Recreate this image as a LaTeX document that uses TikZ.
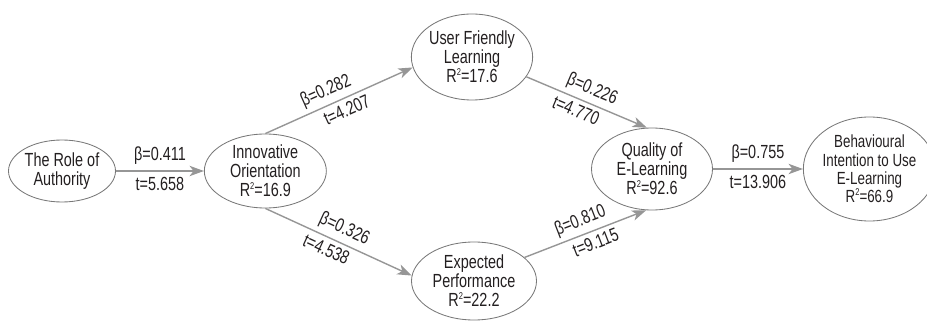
\documentclass[tikz,border=0pt]{standalone}
\usepackage{fontspec}
\setmainfont{Liberation Sans}[FakeStretch=0.76]
\usetikzlibrary{arrows.meta,positioning,shapes.geometric}
\definecolor{mygray}{RGB}{150,150,150}
\definecolor{myline}{RGB}{120,120,120}
\definecolor{mytext}{RGB}{35,31,32}
\newcommand{\rsq}{R\raisebox{0.75ex}{\fontsize{7}{7}\selectfont 2}}

\begin{document}
\begin{tikzpicture}[
  latent/.style={ellipse,draw=myline,line width=0.6pt,align=center,inner sep=0pt,
    text=mytext,font=\fontsize{13.5}{13.5}\selectfont},
  path/.style={draw=mygray,line width=1pt,-{Stealth[length=3.6mm,width=2.6mm,inset=1mm]}},
  coef/.style={text=mytext,font=\fontsize{13.5}{13.5}\selectfont,inner sep=1pt}]

  \useasboundingbox (0,0) rectangle (23.175,8.05);

  \node[latent,minimum width=2.675cm,minimum height=1.55cm] (auth) at (1.55,3.775) {The Role of\\Authority};
  \node[latent,minimum width=3.05cm,minimum height=1.85cm,right=2.2cm of auth] (innov) {Innovative\\Orientation\\\rsq=16.9};

  \node[latent,minimum width=3cm,minimum height=2.15cm] (user) at (11.8,6.625) {User Friendly\\Learning\\\rsq=17.6};
  \node[latent,minimum width=3.125cm,minimum height=1.95cm] (expect) at (11.85,1.025) {Expected\\Performance\\\rsq=22.2};

  \node[latent,minimum width=3.025cm,minimum height=2.05cm] (quality) at (16.3,3.825) {Quality of\\E-Learning\\\rsq=92.6};
  \node[latent,minimum width=3.1cm,minimum height=2.6cm,right=2.25cm of quality,
    font=\fontsize{12.5}{13}\selectfont] (behav) {Behavioural\\Intention to Use\\E-Learning\\\rsq=66.9};

  % draw paths with coefficients
  \draw[path] (auth) -- (innov)
    node[coef,midway,above=3pt] {β=0.411}
    node[coef,midway,below=3pt] {t=5.658};
  \draw[path] (innov.north) -- (user.190)
    node[coef,pos=0.45,above=2pt,sloped] {β=0.282}
    node[coef,pos=0.52,below=2pt,sloped] {t=4.207};
  \draw[path] (innov.south) -- (expect.175)
    node[coef,pos=0.5,above=2pt,sloped] {β=0.326}
    node[coef,pos=0.45,below=2pt,sloped] {t=4.538};
  \draw[path] (user.-20) -- (quality.97)
    node[coef,pos=0.5,above=2pt,sloped] {β=0.226}
    node[coef,pos=0.45,below=2pt,sloped] {t=4.770};
  \draw[path] (expect.25) -- (quality.262)
    node[coef,pos=0.5,above=2pt,sloped] {β=0.810}
    node[coef,pos=0.55,below=2pt,sloped] {t=9.115};
  \draw[path] (quality) -- (behav)
    node[coef,midway,above=3pt] {β=0.755}
    node[coef,midway,below=3pt] {t=13.906};

\end{tikzpicture}
\end{document}
